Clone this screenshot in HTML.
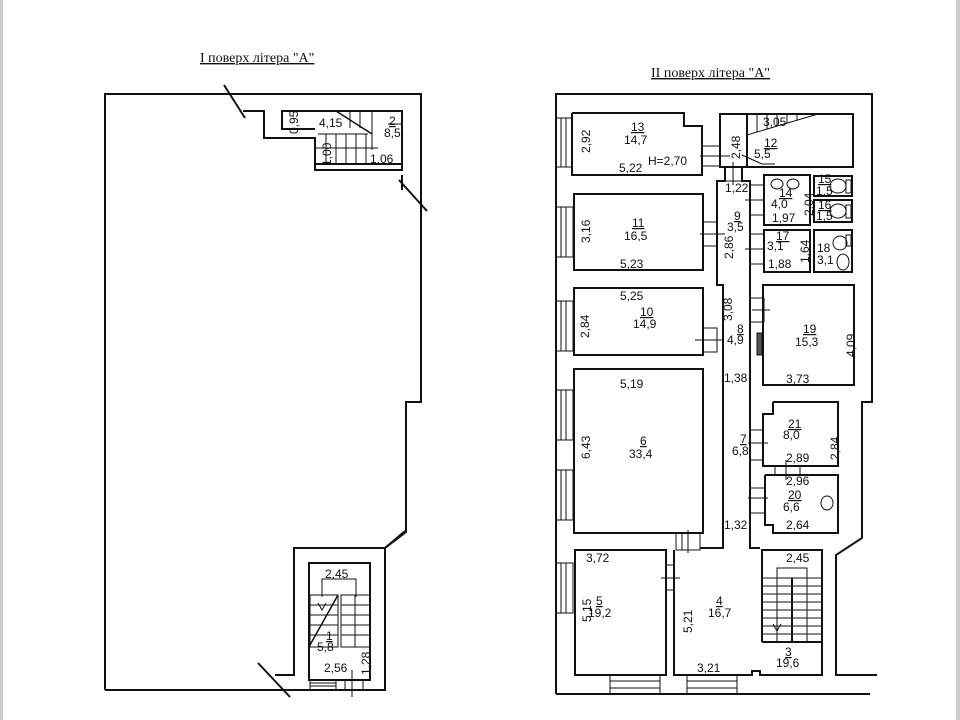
<!DOCTYPE html>
<html><head><meta charset="utf-8"><style>
html,body{margin:0;padding:0;background:#fff}
svg{display:block}
text{font-family:"Liberation Sans",sans-serif;font-size:12px;fill:#111}
.n{text-decoration:underline}
.t{font-family:"Liberation Serif",serif;font-size:14px;text-decoration:underline}
</style></head><body>
<svg width="960" height="720" viewBox="0 0 960 720" xmlns="http://www.w3.org/2000/svg">
<rect x="0" y="0" width="3" height="720" fill="#ccc"/>
<rect x="956" y="0" width="4" height="720" fill="#ccc"/>
<text class="t" x="200" y="62">I поверх  літера "А"</text>
<text class="t" x="651" y="77">II поверх  літера "А"</text>
<g fill="none" stroke="#111" stroke-width="2">
<polyline points="105,690 105,94 421,94 421,402 406,402 406,532 385,548 385,690 105,690"/>
<line x1="224" y1="85" x2="245" y2="118"/>
<line x1="399" y1="180" x2="427" y2="211"/>
<line x1="258" y1="663" x2="290" y2="697"/>
<line x1="385" y1="548" x2="405" y2="531"/>
<polyline points="243,111 264,111 264,138 315,138 315,170 402,170 402,111 282,111 282,129 315,129"/>
<line x1="402" y1="164" x2="316" y2="164"/>
<line x1="402" y1="175" x2="402" y2="190"/>
<line x1="318" y1="134" x2="368" y2="134" stroke-width="1"/>
<line x1="336" y1="111" x2="372" y2="134" stroke-width="1.5"/>
<g stroke-width="1">
<line x1="336" y1="134" x2="336" y2="165"/><line x1="346" y1="134" x2="346" y2="165"/><line x1="356" y1="134" x2="356" y2="165"/><line x1="366" y1="134" x2="366" y2="165"/><line x1="326" y1="134" x2="326" y2="165"/>
<line x1="316" y1="148" x2="378" y2="148"/><line x1="350" y1="111" x2="350" y2="128"/><line x1="360" y1="111" x2="360" y2="128"/><line x1="372" y1="111" x2="372" y2="150"/>
<line x1="388" y1="124" x2="402" y2="124"/>
</g>
<polyline points="275,675 294,675 294,548 385,548"/>
<rect x="309" y="563" width="61" height="117"/>
<g stroke-width="1">
<polyline points="322,597 322,579 356,579 356,597"/>
<rect x="310" y="595" width="28" height="52"/>
<rect x="341" y="595" width="29" height="52"/>
<line x1="310" y1="605" x2="338" y2="605"/><line x1="310" y1="615" x2="338" y2="615"/><line x1="310" y1="625" x2="338" y2="625"/><line x1="310" y1="635" x2="338" y2="635"/>
<line x1="341" y1="605" x2="370" y2="605"/><line x1="341" y1="615" x2="370" y2="615"/><line x1="341" y1="625" x2="370" y2="625"/><line x1="341" y1="635" x2="370" y2="635"/><line x1="355" y1="595" x2="355" y2="647"/>
<line x1="338" y1="595" x2="310" y2="645" stroke-width="1.5"/>
<line x1="310" y1="680" x2="310" y2="690"/><line x1="336" y1="680" x2="336" y2="690"/>
<line x1="310" y1="683" x2="336" y2="683"/><line x1="310" y1="686" x2="336" y2="686"/>
<line x1="352" y1="670" x2="352" y2="697"/><line x1="345" y1="680" x2="345" y2="690"/><line x1="363" y1="680" x2="363" y2="690"/>
<polyline points="318,603 322,610 326,603"/>
</g>
<polyline points="556,694 556,94 872,94 872,402 862,402 862,538 836,555 836,675 877,675"/>
<line x1="556" y1="694" x2="870" y2="694"/>
<polyline points="572,113 684,113 684,126 702,126 702,175 572,175 572,113"/>
<rect x="720" y="114" width="133" height="53"/>
<line x1="747" y1="114" x2="747" y2="167"/>
<polyline points="725,167 725,181 717,181 717,285 723,285 723,548 700,548"/>
<polyline points="742,167 742,181 750,181 750,548 760,548"/>
<rect x="574" y="194" width="129" height="76"/>
<rect x="574" y="288" width="129" height="67"/>
<rect x="574" y="369" width="129" height="164"/>
<rect x="764" y="175" width="46" height="50"/>
<rect x="764" y="230" width="46" height="42"/>
<rect x="814" y="176" width="38" height="20"/>
<rect x="814" y="200" width="38" height="22"/>
<rect x="814" y="230" width="38" height="42"/>
<rect x="763" y="285" width="91" height="100"/>
<polyline points="773,402 838,402 838,466 763,466 763,414 773,414 773,402"/>
<polyline points="765,475 838,475 838,533 773,533 773,525 765,525 765,475"/>
<rect x="575" y="550" width="91" height="125"/>
<polyline points="674,550 674,675 752,675 752,671 760,671 760,675 822,675 822,550 762,550 762,642"/>
<line x1="762" y1="642" x2="822" y2="642"/>
</g>
<g fill="none" stroke="#111" stroke-width="1">
<rect x="556" y="118" width="16" height="49"/><line x1="561" y1="118" x2="561" y2="167"/><line x1="566" y1="118" x2="566" y2="167"/>
<rect x="556" y="207" width="17" height="50"/><line x1="561" y1="207" x2="561" y2="257"/><line x1="566" y1="207" x2="566" y2="257"/>
<rect x="556" y="301" width="17" height="50"/><line x1="561" y1="301" x2="561" y2="351"/><line x1="566" y1="301" x2="566" y2="351"/>
<rect x="556" y="390" width="17" height="50"/><line x1="561" y1="390" x2="561" y2="440"/><line x1="566" y1="390" x2="566" y2="440"/>
<rect x="556" y="470" width="17" height="50"/><line x1="561" y1="470" x2="561" y2="520"/><line x1="566" y1="470" x2="566" y2="520"/>
<rect x="556" y="563" width="17" height="50"/><line x1="561" y1="563" x2="561" y2="613"/><line x1="566" y1="563" x2="566" y2="613"/>
<rect x="610" y="675" width="50" height="19"/><line x1="610" y1="681" x2="660" y2="681"/><line x1="610" y1="688" x2="660" y2="688"/>
<rect x="687" y="675" width="50" height="19"/><line x1="687" y1="681" x2="737" y2="681"/><line x1="687" y1="688" x2="737" y2="688"/>
<rect x="702" y="146" width="18" height="20"/><line x1="700" y1="156" x2="730" y2="156"/>
<rect x="725" y="167" width="17" height="14"/><line x1="733" y1="162" x2="733" y2="185"/>
<rect x="703" y="222" width="14" height="24"/><line x1="700" y1="234" x2="725" y2="234"/>
<rect x="703" y="328" width="14" height="24"/><line x1="695" y1="340" x2="722" y2="340"/>
<rect x="750" y="185" width="14" height="30"/><line x1="745" y1="200" x2="764" y2="200"/>
<rect x="750" y="234" width="14" height="30"/><line x1="745" y1="249" x2="764" y2="249"/>
<rect x="750" y="298" width="14" height="24"/><line x1="752" y1="310" x2="770" y2="310"/>
<rect x="757" y="333" width="5" height="22" fill="#555"/>
<rect x="750" y="430" width="13" height="30"/><line x1="748" y1="443" x2="768" y2="443"/>
<rect x="750" y="488" width="15" height="25"/><line x1="748" y1="498" x2="768" y2="498"/>
<rect x="775" y="466" width="25" height="9"/><line x1="786" y1="460" x2="786" y2="480"/>
<rect x="676" y="533" width="24" height="17"/><line x1="688" y1="530" x2="688" y2="553"/><line x1="682" y1="533" x2="682" y2="550"/>
<rect x="666" y="565" width="8" height="25"/><line x1="661" y1="578" x2="680" y2="578"/>
<polyline points="747,135 818,114"/>
<line x1="757" y1="114" x2="757" y2="132"/><line x1="767" y1="114" x2="767" y2="129"/><line x1="777" y1="114" x2="777" y2="126"/><line x1="787" y1="114" x2="787" y2="123"/><line x1="797" y1="114" x2="797" y2="120"/>
<line x1="742" y1="155" x2="762" y2="164"/><line x1="762" y1="164" x2="775" y2="164"/>
<polyline points="777,578 777,568 807,568 807,578"/>
<line x1="762" y1="578" x2="822" y2="578"/>
<line x1="777" y1="578" x2="777" y2="642"/><line x1="792" y1="578" x2="792" y2="642" stroke-width="2"/><line x1="807" y1="578" x2="807" y2="642"/>
<line x1="762" y1="586" x2="822" y2="586"/><line x1="762" y1="594" x2="822" y2="594"/><line x1="762" y1="602" x2="822" y2="602"/><line x1="762" y1="610" x2="822" y2="610"/><line x1="762" y1="618" x2="822" y2="618"/><line x1="762" y1="626" x2="822" y2="626"/><line x1="762" y1="634" x2="822" y2="634"/>
<polyline points="773,624 777,631 781,624"/>
<ellipse cx="777" cy="184" rx="6" ry="5"/><ellipse cx="793" cy="184" rx="6" ry="5"/>
<ellipse cx="838" cy="186" rx="8" ry="7"/><rect x="846" y="180" width="5" height="13"/>
<ellipse cx="838" cy="211" rx="8" ry="7"/><rect x="846" y="205" width="5" height="13"/>
<ellipse cx="840" cy="243" rx="7" ry="7"/><rect x="846" y="235" width="5" height="11"/>
<ellipse cx="843" cy="262" rx="6" ry="8"/>
<ellipse cx="827" cy="503" rx="6" ry="7"/>
</g>
<text x="287" y="129" transform="rotate(-90 295 126)">0,95</text>
<text x="319" y="127">4,15</text>
<text class="n" x="389" y="125">2</text><text x="384" y="137">8,5</text>
<text x="370" y="163">1,06</text>
<text x="315" y="162" transform="rotate(-90 325 156)">1,00</text>
<text x="325" y="578">2,45</text>
<text class="n" x="326" y="640">1</text><text x="317" y="651">5,8</text>
<text x="324" y="672">2,56</text>
<text x="350" y="665" transform="rotate(-90 365 660)">1,28</text>
<text class="n" x="631" y="131">13</text><text x="624" y="144">14,7</text>
<text x="648" y="165">H=2,70</text><text x="619" y="172">5,22</text>
<text x="573" y="150" transform="rotate(-90 583 143)">2,92</text>
<text x="724" y="155" transform="rotate(-90 734 149)">2,48</text>
<text x="763" y="126">3,05</text>
<text class="n" x="764" y="147">12</text><text x="754" y="158">5,5</text>
<text x="725" y="192">1,22</text>
<text class="n" x="779" y="197">14</text><text x="771" y="208">4,0</text><text x="772" y="222">1,97</text>
<text x="795" y="210" transform="rotate(-90 807 204)">2,04</text>
<text class="n" x="818" y="183">15</text><text x="816" y="195">1,5</text>
<text class="n" x="818" y="209">16</text><text x="816" y="220">1,5</text>
<text class="n" x="776" y="240">17</text><text x="767" y="250">3,1</text><text x="768" y="268">1,88</text>
<text x="790" y="254" transform="rotate(-90 804 249)">1,64</text>
<text x="817" y="252">18</text><text x="817" y="264">3,1</text>
<text class="n" x="734" y="220">9</text><text x="727" y="231">3,5</text>
<text x="712" y="250" transform="rotate(-90 727 244)">2,86</text>
<text class="n" x="632" y="227">11</text><text x="624" y="240">16,5</text>
<text x="620" y="268">5,23</text>
<text x="573" y="240" transform="rotate(-90 583 233)">3,16</text>
<text x="620" y="300">5,25</text>
<text class="n" x="640" y="316">10</text><text x="633" y="328">14,9</text>
<text x="573" y="334" transform="rotate(-90 583 328)">2,84</text>
<text x="712" y="311" transform="rotate(-90 727 306)">3,08</text>
<text class="n" x="737" y="333">8</text><text x="727" y="344">4,9</text>
<text x="724" y="382">1,38</text>
<text class="n" x="803" y="333">19</text><text x="795" y="346">15,3</text>
<text x="835" y="349" transform="rotate(-90 849 343)">4,09</text>
<text x="786" y="383">3,73</text>
<text x="620" y="388">5,19</text>
<text class="n" x="640" y="445">6</text><text x="629" y="458">33,4</text>
<text x="573" y="456" transform="rotate(-90 583 449)">6,43</text>
<text class="n" x="788" y="428">21</text><text x="783" y="439">8,0</text>
<text x="820" y="451" transform="rotate(-90 834 446)">2,84</text>
<text class="n" x="740" y="443">7</text><text x="732" y="455">6,8</text>
<text x="786" y="462">2,89</text><text x="786" y="485">2,96</text>
<text class="n" x="788" y="499">20</text><text x="783" y="511">6,6</text>
<text x="786" y="529">2,64</text>
<text x="724" y="529">1,32</text>
<text x="586" y="562">3,72</text><text x="786" y="562">2,45</text>
<text class="n" x="596" y="605">5</text><text x="588" y="617">19,2</text>
<text x="576" y="617" transform="rotate(-90 586 612)">5,15</text>
<text x="679" y="632" transform="rotate(-90 686 626)">5,21</text>
<text class="n" x="716" y="605">4</text><text x="708" y="617">16,7</text>
<text class="n" x="785" y="656">3</text><text x="776" y="667">19,6</text>
<text x="697" y="672">3,21</text>
</svg>
</body></html>
